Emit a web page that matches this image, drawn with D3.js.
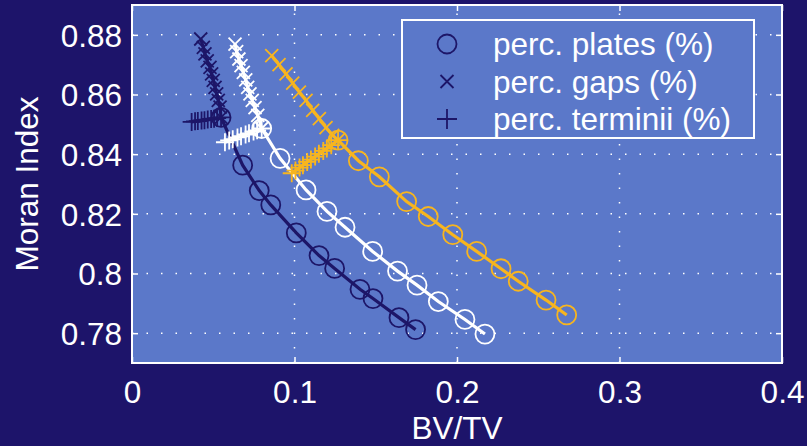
<!DOCTYPE html>
<html>
<head>
<meta charset="utf-8">
<script src="https://cdn.jsdelivr.net/npm/d3@7"></script>
<style>
  body { margin: 0; background: #1d146a; }
  svg { display: block; }
  text { font-family: "Liberation Sans", Arial, sans-serif; fill: #fff; }
</style>
</head>
<body>
<script>
(function(){

//colours of the three curves, drawn in this order
var seriesNames = ["navy", "white", "gold"];
var seriesColors = ["#1d1668", "#ffffff", "#f7b51f"];

//perc. plates (%) - circles
var platesX = [
  [0.0548, 0.0681, 0.0783, 0.0854, 0.1011, 0.1151, 0.1247, 0.1403, 0.1483, 0.1643, 0.1745],
  [0.0798, 0.0911, 0.1071, 0.1200, 0.1311, 0.1481, 0.1634, 0.1754, 0.1885, 0.2049, 0.2172],
  [0.1268, 0.1393, 0.1522, 0.1690, 0.1823, 0.1974, 0.2121, 0.2271, 0.2377, 0.2548, 0.2675]
];
var platesY = [
  [0.8523, 0.8363, 0.8278, 0.8230, 0.8136, 0.8060, 0.8017, 0.7947, 0.7916, 0.7852, 0.7812],
  [0.8486, 0.8386, 0.8280, 0.8208, 0.8155, 0.8074, 0.8008, 0.7961, 0.7906, 0.7846, 0.7797],
  [0.8447, 0.8378, 0.8324, 0.8241, 0.8191, 0.8130, 0.8074, 0.8016, 0.7974, 0.7911, 0.7861]
];

//perc. gaps (%) - crosses
var gapsX = [
  [0.0423, 0.0439, 0.0449, 0.0463, 0.0480, 0.0490, 0.0500, 0.0511, 0.0521, 0.0531, 0.0542, 0.0548],
  [0.0634, 0.0644, 0.0658, 0.0671, 0.0685, 0.0700, 0.0712, 0.0726, 0.0740, 0.0757, 0.0774, 0.0798],
  [0.0860, 0.0905, 0.0948, 0.0989, 0.1030, 0.1071, 0.1112, 0.1153, 0.1194, 0.1235, 0.1268]
];
var gapsY = [
  [0.8786, 0.8758, 0.8736, 0.8713, 0.8691, 0.8669, 0.8647, 0.8624, 0.8602, 0.8580, 0.8558, 0.8523],
  [0.8769, 0.8744, 0.8719, 0.8697, 0.8674, 0.8649, 0.8624, 0.8602, 0.8580, 0.8556, 0.8530, 0.8486],
  [0.8730, 0.8700, 0.8669, 0.8638, 0.8608, 0.8580, 0.8547, 0.8519, 0.8489, 0.8463, 0.8447]
];

//perc. terminii (%) - plus signs
var termX = [
  [0.0367, 0.0388, 0.0405, 0.0428, 0.0446, 0.0466, 0.0487, 0.0505, 0.0524, 0.0548],
  [0.0572, 0.0598, 0.0620, 0.0649, 0.0671, 0.0699, 0.0720, 0.0748, 0.0770, 0.0798],
  [0.0983, 0.1006, 0.1031, 0.1052, 0.1078, 0.1101, 0.1127, 0.1150, 0.1177, 0.1199, 0.1226, 0.1268]
];
var termY = [
  [0.8508, 0.8510, 0.8511, 0.8513, 0.8514, 0.8516, 0.8518, 0.8519, 0.8521, 0.8523],
  [0.8440, 0.8446, 0.8450, 0.8456, 0.8460, 0.8466, 0.8470, 0.8476, 0.8480, 0.8486],
  [0.8336, 0.8345, 0.8355, 0.8363, 0.8374, 0.8382, 0.8392, 0.8401, 0.8411, 0.8419, 0.8430, 0.8447]
];

var xTicks = [0, 0.1, 0.2, 0.3, 0.4];
var yTicks = [0.78, 0.8, 0.82, 0.84, 0.86, 0.88];
var legendLabels = ["perc. plates (%)", "perc. gaps (%)", "perc. terminii (%)"];

var width = 807, height = 446,
    left = 132, right = 782, top = 5, bottom = 363,
    fontSize = "31.5px";

var x = d3.scaleLinear().domain([0, 0.4]).range([left, right]);
var y = d3.scaleLinear().domain([0.77, 0.89]).range([bottom, top]);

var svg = d3.select("body").append("svg")
    .attr("width", width)
    .attr("height", height);

svg.append("rect")
    .attr("width", width).attr("height", height)
    .attr("fill", "#1d146a");

//axes background
svg.append("rect")
    .attr("x", left).attr("y", top)
    .attr("width", right - left).attr("height", bottom - top)
    .attr("fill", "#5b78c9");

//dotted grid
svg.append("g").selectAll("line.gx")
    .data(xTicks.slice(1, -1)).enter().append("line")
    .attr("x1", function(d){ return x(d); }).attr("x2", function(d){ return x(d); })
    .attr("y1", bottom).attr("y2", top)
    .attr("stroke", "#fff").attr("stroke-width", 1.5)
    .attr("stroke-dasharray", "1.5,13");
svg.append("g").selectAll("line.gy")
    .data(yTicks).enter().append("line")
    .attr("y1", function(d){ return y(d); }).attr("y2", function(d){ return y(d); })
    .attr("x1", left).attr("x2", right)
    .attr("stroke", "#fff").attr("stroke-width", 1.5)
    .attr("stroke-dasharray", "1.5,13");

//tick marks inside on all four sides
var tickLen = 6;
var bottomAxis = d3.axisBottom(x).tickValues(xTicks).tickSizeInner(-tickLen).tickSizeOuter(0)
    .tickFormat(function(d){ return d === 0 ? "0" : d3.format("")(d); });
var leftAxis = d3.axisLeft(y).tickValues(yTicks).tickSizeInner(-tickLen).tickSizeOuter(0)
    .tickFormat(function(d){ return String(+d.toFixed(2)); });

var gx = svg.append("g").attr("transform", "translate(0," + bottom + ")").call(bottomAxis);
var gy = svg.append("g").attr("transform", "translate(" + left + ",0)").call(leftAxis);
svg.append("g").attr("transform", "translate(0," + top + ")")
    .call(d3.axisTop(x).tickValues(xTicks).tickSizeInner(-tickLen).tickSizeOuter(0).tickFormat(""));
svg.append("g").attr("transform", "translate(" + right + ",0)")
    .call(d3.axisRight(y).tickValues(yTicks).tickSizeInner(-tickLen).tickSizeOuter(0).tickFormat(""));

svg.selectAll(".domain").remove();
svg.selectAll(".tick line").attr("stroke", "#fff").attr("stroke-width", 1.5);
svg.selectAll(".tick text").attr("fill", "#fff").style("font-size", fontSize)
    .style("font-family", "'Liberation Sans', Arial, sans-serif");
gx.selectAll(".tick text").attr("dy", 0).attr("y", 40);
gy.selectAll(".tick text").attr("x", -10).attr("dy", "0.36em");

//curves
var line = d3.line()
    .x(function(d){ return x(d[0]); })
    .y(function(d){ return y(d[1]); });

function pairs(xs, ys){
  return xs.map(function(v, i){ return [v, ys[i]]; });
}

var plot = svg.append("g");

seriesNames.forEach(function(name, s){
  var col = seriesColors[s];
  var g = plot.append("g").attr("class", "series " + name);

  var plates = pairs(platesX[s], platesY[s]),
      gaps = pairs(gapsX[s], gapsY[s]),
      term = pairs(termX[s], termY[s]);

  [term, gaps, plates].forEach(function(pts){
    g.append("path")
      .attr("d", line(pts))
      .attr("fill", "none")
      .attr("stroke", col)
      .attr("stroke-width", 3.2);
  });

  //circles
  g.selectAll("circle").data(plates).enter().append("circle")
    .attr("cx", function(d){ return x(d[0]); })
    .attr("cy", function(d){ return y(d[1]); })
    .attr("r", 9.5)
    .attr("fill", "none")
    .attr("stroke", col)
    .attr("stroke-width", 1.8);

  //crosses
  g.selectAll("path.cross").data(gaps).enter().append("path")
    .attr("class", "cross")
    .attr("d", function(d){
      var cx = x(d[0]), cy = y(d[1]), h = 6.5;
      return "M" + (cx - h) + "," + (cy - h) + "L" + (cx + h) + "," + (cy + h) +
             "M" + (cx - h) + "," + (cy + h) + "L" + (cx + h) + "," + (cy - h);
    })
    .attr("stroke", col).attr("stroke-width", 1.8);

  //plus signs
  g.selectAll("path.plus").data(term).enter().append("path")
    .attr("class", "plus")
    .attr("d", function(d){
      var cx = x(d[0]), cy = y(d[1]), h = 9;
      return "M" + (cx - h) + "," + cy + "L" + (cx + h) + "," + cy +
             "M" + cx + "," + (cy - h) + "L" + cx + "," + (cy + h);
    })
    .attr("stroke", col).attr("stroke-width", 1.8);
});

//axes box
svg.append("rect")
    .attr("x", left).attr("y", top)
    .attr("width", right - left).attr("height", bottom - top)
    .attr("fill", "none").attr("stroke", "#fff").attr("stroke-width", 2);

//axis labels
svg.append("text")
    .attr("x", (left + right) / 2).attr("y", 439)
    .attr("text-anchor", "middle")
    .style("font-size", fontSize)
    .text("BV/TV");

svg.append("text")
    .attr("transform", "translate(38," + 184 + ") rotate(-90)")
    .attr("text-anchor", "middle")
    .style("font-size", fontSize)
    .text("Moran Index");

//legend
var legend = svg.append("g");
legend.append("rect")
    .attr("x", 402).attr("y", 20)
    .attr("width", 352).attr("height", 118)
    .attr("fill", "#5b78c9")
    .attr("stroke", "#fff").attr("stroke-width", 2);

var rowsY = [44, 81.5, 119];
var legendCol = seriesColors[0];
legendLabels.forEach(function(lbl, i){
  var cx = 447, cy = rowsY[i];
  if (i === 0) {
    legend.append("circle").attr("cx", cx).attr("cy", cy).attr("r", 9.5)
      .attr("fill", "none").attr("stroke", legendCol).attr("stroke-width", 1.8);
  } else if (i === 1) {
    var h = 6.5;
    legend.append("path")
      .attr("d", "M" + (cx - h) + "," + (cy - h) + "L" + (cx + h) + "," + (cy + h) +
                 "M" + (cx - h) + "," + (cy + h) + "L" + (cx + h) + "," + (cy - h))
      .attr("stroke", legendCol).attr("stroke-width", 1.8);
  } else {
    var p = 10;
    legend.append("path")
      .attr("d", "M" + (cx - p) + "," + cy + "L" + (cx + p) + "," + cy +
                 "M" + cx + "," + (cy - p) + "L" + cx + "," + (cy + p))
      .attr("stroke", legendCol).attr("stroke-width", 1.8);
  }
  legend.append("text")
    .attr("x", 493).attr("y", cy).attr("dy", "0.36em")
    .style("font-size", fontSize)
    .text(lbl);
});

})();
</script>
</body>
</html>
